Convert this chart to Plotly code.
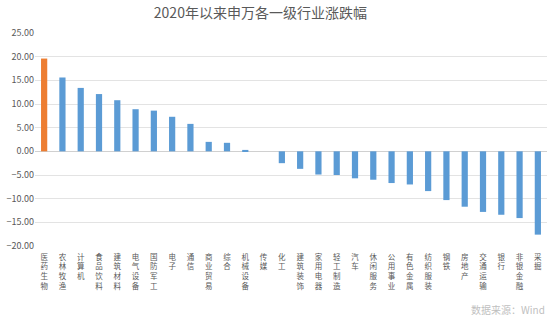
import plotly.graph_objects as go

categories = ["医药生物", "农林牧渔", "计算机", "食品饮料", "建筑材料", "电气设备", "国防军工",
              "电子", "通信", "商业贸易", "综合", "机械设备", "传媒", "化工", "建筑装饰",
              "家用电器", "轻工制造", "汽车", "休闲服务", "公用事业", "有色金属", "纺织服装",
              "钢铁", "房地产", "交通运输", "银行", "非银金融", "采掘"]
values = [19.6, 15.6, 13.4, 12.1, 10.8, 8.9, 8.6, 7.3, 5.8, 2.0, 1.8, 0.3, 0.0, -2.5, -3.7,
          -4.9, -5.0, -5.7, -6.0, -6.7, -7.0, -8.4, -10.3, -11.7, -12.8, -13.4, -14.1, -17.6]
colors = ["#ED7D31"] + ["#5B9BD5"] * (len(categories) - 1)
yticks = [25, 20, 15, 10, 5, 0, -5, -10, -15, -20]

FONT = "Noto Sans CJK SC"
ticktext = ["<br>".join(list(c)) for c in categories]

fig = go.Figure(go.Bar(x=categories, y=values, marker=dict(color=colors, line=dict(width=0)),
                       width=0.34))
fig.update_layout(
    width=554, height=324,
    margin=dict(l=31, r=7, t=33, b=78),
    paper_bgcolor="white", plot_bgcolor="white",
    font=dict(family=FONT, color="#595959", size=9),
    title=dict(text="2020年以来申万各一级行业涨跌幅", x=0.47, xanchor="center", y=0.96, yanchor="middle",
               font=dict(family=FONT, size=14, color="#595959")),
    showlegend=False,
)
fig.update_xaxes(tickmode="array", tickvals=categories, ticktext=ticktext, tickangle=0,
                 showgrid=False, showline=False, ticks="", ticklabelstandoff=5,
                 tickfont=dict(family=FONT, size=7.5, color="#595959"))
fig.update_yaxes(range=[-20, 25], tickvals=yticks, tickformat=".2f", showgrid=True,
                 gridcolor="#E3E3E3", gridwidth=1, zeroline=True, zerolinecolor="#D0D0D0",
                 zerolinewidth=1, showline=False, ticks="",
                 tickfont=dict(family=FONT, size=9, color="#595959"))
fig.add_annotation(text="数据来源：Wind", xref="paper", yref="paper", x=1.0, y=-0.30,
                   xanchor="right", yanchor="middle", showarrow=False,
                   font=dict(family=FONT, size=10, color="#BFBFBF"))
fig.write_html("out.html")
